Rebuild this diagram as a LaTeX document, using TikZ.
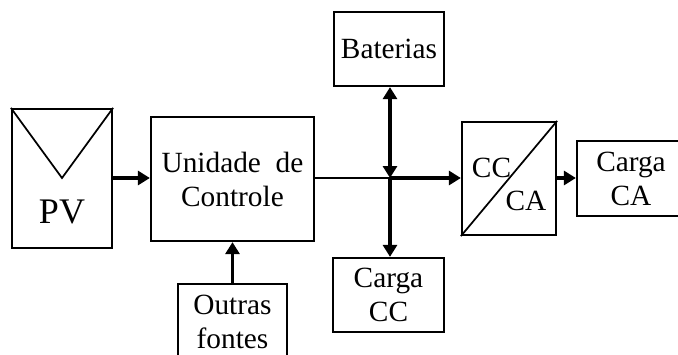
\documentclass[tikz,border=0pt]{standalone}
\usepackage{fontspec}
\setmainfont{Liberation Serif}
\usetikzlibrary{arrows.meta}
\tikzset{
  blocknode/.style = {align=center, inner sep=0pt, text centered,
    font=\fontsize{22}{25.5}\selectfont},
  blk_n/.style = {blocknode, rectangle, black, draw=black, line width=1.7pt,
    fill=white},
  flow/.style = {->, line width=2.5pt},
  thinflow/.style = {line width=1.6pt}}

\begin{document}
\begin{tikzpicture}[x=0.75pt,y=-0.75pt,>={Triangle[length=9pt,width=10.5pt]}]
 \useasboundingbox (0,0) rectangle (678,354);
 \clip (0,0) rectangle (678,354);

\node [blk_n, minimum width=75pt, minimum height=104.25pt] (pv) at (62,178.5) {};
\node [blocknode, font=\fontsize{27}{30}\selectfont] (pvlabel) at (62,212) {PV};
\node [blk_n, minimum width=122.25pt, minimum height=93pt] (unidade) at (232.5,179) {Unidade\ \ de\\Controle};
\node [blk_n, minimum width=81.75pt, minimum height=57pt] (outras) at (232.5,322) {Outras\\fontes};
\node [blk_n, minimum width=82.5pt, minimum height=55.5pt] (baterias) at (389,49) {Baterias};
\node [blk_n, minimum width=83.25pt, minimum height=55.5pt] (cargacc) at (388.5,295) {Carga\\CC};
\node [blk_n, minimum width=70.5pt, minimum height=84.75pt] (conversor) at (509,178.5) {};
\node [blocknode] (cc) at (491.5,168) {CC};
\node [blocknode] (ca) at (526,201) {CA};
\node [blk_n, minimum width=81pt, minimum height=56.25pt] (cargaca) at (631,178.5) {Carga\\CA};

% painel e conversor
\coordinate (apex) at (62,178);
\draw [line width=1.3pt, line join=miter] (pv.north west) -- (apex) -- (pv.north east);
\draw [line width=1.3pt] (conversor.south west) -- (conversor.north east);

% ligacoes
\coordinate (junction) at (390,178);
\draw [flow] (pv.east |- junction) -- (unidade.west |- junction);
\draw [flow] (outras.north) -- (unidade.south);
\draw [thinflow] (unidade.east |- junction) -- (junction);
\draw [flow] (junction) -- (conversor.west |- junction);
\draw [flow, <->] (baterias.south -| junction) -- (junction);
\draw [flow] (junction) -- (cargacc.north -| junction);
\draw [flow] (conversor.east |- junction) -- (cargaca.west |- junction);
\end{tikzpicture}
\end{document}
